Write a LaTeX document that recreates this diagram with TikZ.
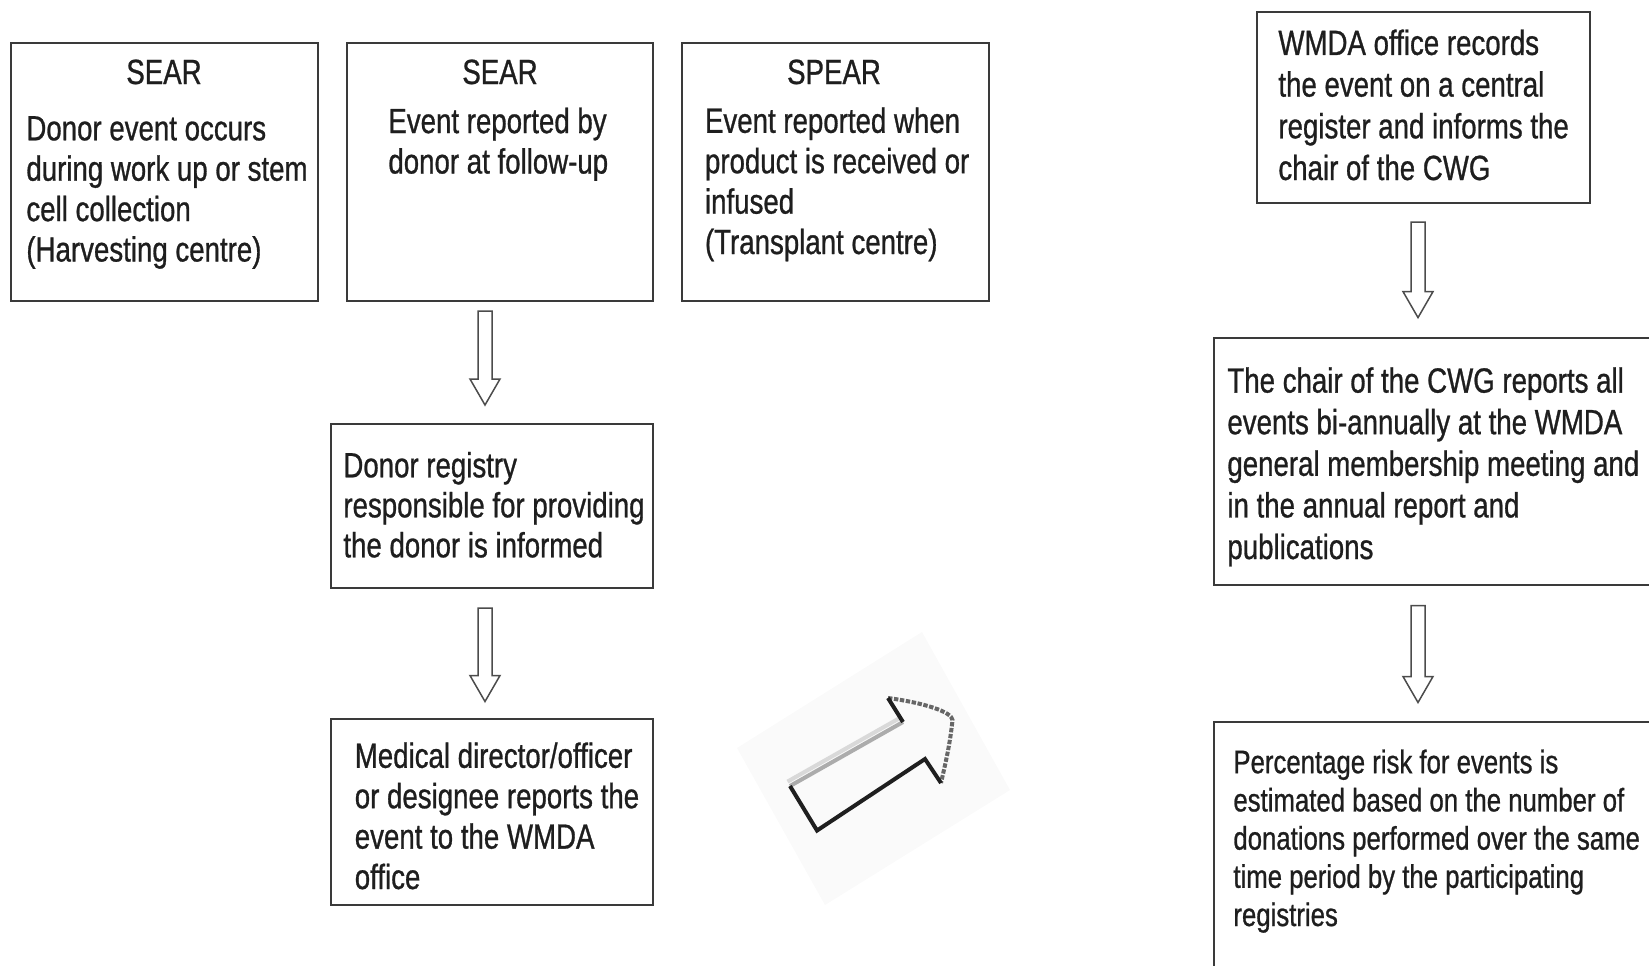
\documentclass[tikz,border=0pt]{standalone}
\usepackage{fontspec}
\setmainfont{Liberation Sans}[FakeStretch=0.79,FakeBold=0.8]
\usetikzlibrary{calc}
\definecolor{ink}{HTML}{1E1E1E}
\definecolor{edge}{HTML}{3A3A3A}
\tikzset{
 box/.style={draw=edge, line width=1pt, anchor=north west, inner sep=0pt, outer sep=0pt},
 txt/.style={anchor=base west, inner sep=0pt, align=left, text=ink, font=\fontsize{17.5pt}{20.2pt}\selectfont},
 ttl/.style={anchor=base, inner sep=0pt, text=ink, font=\fontsize{17.5pt}{20.2pt}\selectfont},
 hollow/.style={draw=black!70, line width=0.75pt, fill=white,
   to path={let \p1=(\tikztostart), \p2=(\tikztotarget) in
     (\x1-3.5pt,\y1) -- (\x1+3.5pt,\y1) -- (\x1+3.5pt,\y2+13pt) -- (\x1+7.5pt,\y2+13pt)
     -- (\x1,\y2) -- (\x1-7.5pt,\y2+13pt) -- (\x1-3.5pt,\y2+13pt) -- cycle}},
 thickblk/.style={line width=2pt, draw=black!88, line cap=butt, line join=miter},
}
\begin{document}
\begin{tikzpicture}[x=0.5pt,y=-0.5pt]
\useasboundingbox (0,0) rectangle (1649,965);
% boxes
\node[box, minimum width=153.5pt, minimum height=129pt] (b1) at (10.5,43) {};
\node[box, minimum width=153pt, minimum height=129pt] (b2) at (347,43) {};
\node[box, minimum width=153.5pt, minimum height=129pt] (b3) at (681.5,43) {};
\node[box, minimum width=161pt, minimum height=82pt] (b4) at (331,424) {};
\node[box, minimum width=161pt, minimum height=92.75pt] (b5) at (331,719) {};
\node[box, minimum width=166.5pt, minimum height=95.7pt] (b6) at (1257,11.6) {};
\node[box, minimum width=230pt, minimum height=123.5pt] (b7) at (1213.7,337.6) {};
\node[box, minimum width=230pt, minimum height=140pt] (b8) at (1213.7,721.5) {};
% texts (anchor = baseline of the last line)
\node[ttl] (h1) at (164,84) {SEAR};
\node[ttl] (h2) at (500,84) {SEAR};
\node[ttl] (h3) at (834,84) {SPEAR};
\node[txt] (t1) at (26,261.5) {Donor event occurs\\during work up or stem\\cell collection\\(Harvesting centre)};
\node[txt] (t2) at (388,173.5) {Event reported by\\donor at follow-up};
\node[txt] (t3) at (704.6,254) {Event reported when\\product is received or\\infused\\(Transplant centre)};
\node[txt, font=\fontsize{17.5pt}{20pt}\selectfont] (t4) at (343,557.3) {Donor registry\\responsible for providing\\the donor is informed};
\node[txt] (t5) at (354.4,889) {Medical director/officer\\or designee reports the\\event to the WMDA\\office};
\node[txt, font=\fontsize{17.5pt}{20.85pt}\selectfont] (t6) at (1278,180) {WMDA office records\\the event on a central\\register and informs the\\chair of the CWG};
\node[txt, font=\fontsize{17.5pt}{20.8pt}\selectfont] (t7) at (1227,559) {The chair of the CWG reports all\\events bi-annually at the WMDA\\general membership meeting and\\in the annual report and\\publications};
\node[txt, font=\fontsize{16.3pt}{19.1pt}\selectfont] (t8) at (1233,926) {Percentage risk for events is\\estimated based on the number of\\donations performed over the same\\time period by the participating\\registries};
% hollow arrows
\draw[hollow] ([xshift=-7.5pt,yshift=-5pt]b2.south) to ([yshift=9.5pt]b4.north);
\draw[hollow] ([xshift=-3.5pt,yshift=-10pt]b4.south) to ([yshift=8.75pt]b5.north);
\draw[hollow] ([xshift=-2.75pt,yshift=-9.5pt]b6.south) to ([yshift=10pt]b7.north);
\draw[hollow] ($(b7.south -| b6.south)+(-5.5,21)$) to ([yshift=9.5pt]b8.north);
% diagonal cursor-like arrow
\fill[black!2] (737,748) -- (922,632) -- (1010,790) -- (825,905) -- cycle;
\coordinate (dA) at (790,786);
\coordinate (dB) at (817,830.5);
\coordinate (dC) at (925,759);
\coordinate (dD) at (941,783);
\coordinate (dE) at (952.5,720);
\coordinate (dF) at (888,698);
\coordinate (dG) at (903,722);
\draw[line width=2pt, gray!30] ($(dA)+(-2.5,-4.4)$) -- ($(dG)+(-2.5,-4.4)$);
\draw[line width=2pt, gray!65] (dA) -- (dG);
\draw[line width=2pt, black!60, dash pattern=on 2.2pt off 0.8pt] (dF) .. controls (925,703) and (952,712) .. (dE) .. controls (950,745) and (945,765) .. (dD);
\draw[thickblk] (dG) -- (dF);
\draw[thickblk] (dA) -- (dB) -- (dC) -- (dD);
\end{tikzpicture}
\end{document}
